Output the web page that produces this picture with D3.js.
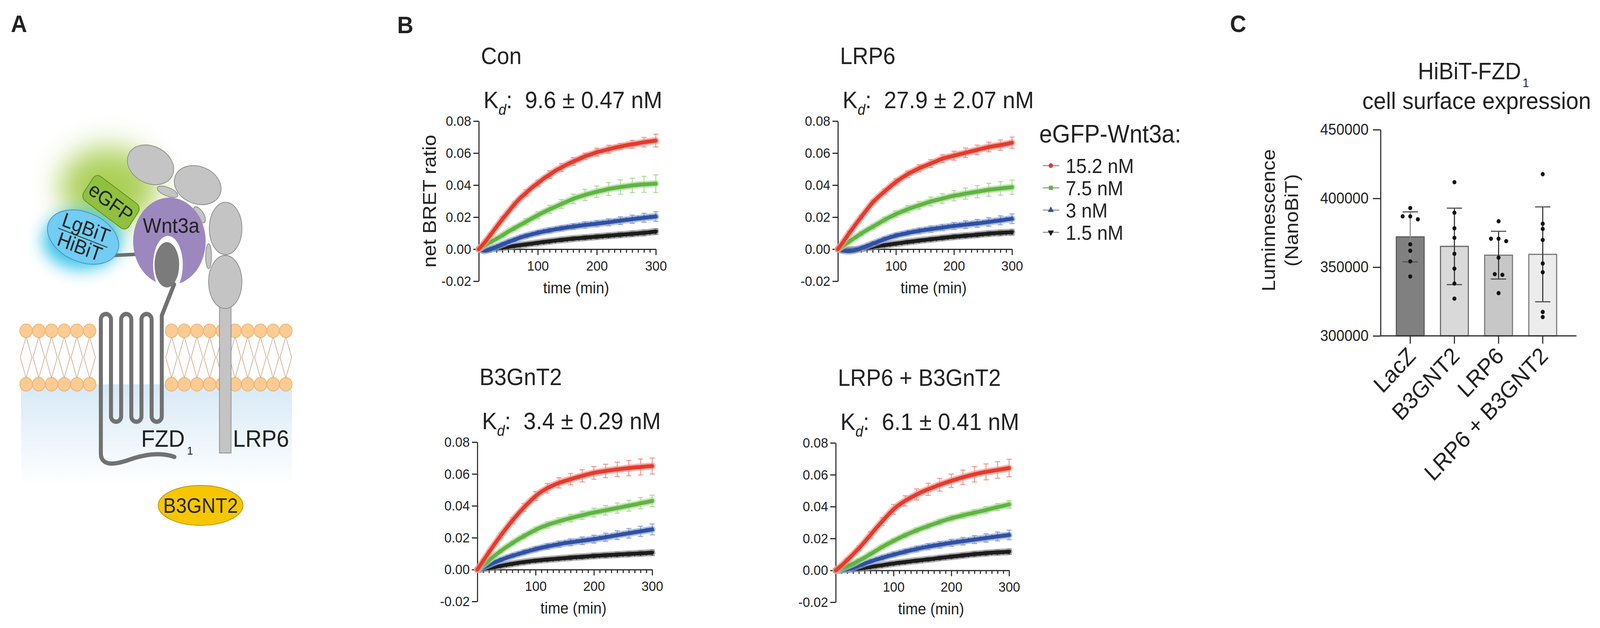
<!DOCTYPE html>
<html>
<head>
<meta charset="utf-8">
<script src="https://cdn.jsdelivr.net/npm/d3@7"></script>
<style>
  html, body { margin: 0; padding: 0; background: #fff; overflow: hidden; width: 100%; height: 100%; }
  #fig { width: 100vw; height: 100vh; }
  svg { display: block; }
  svg text { font-family: "Liberation Sans", Arial, Helvetica, sans-serif; fill: #222; }
</style>
</head>
<body>
<div id="fig"></div>
<script>
// ---------- DATA ----------
const times = [0,10,20,30,40,50,60,70,80,90,100,110,120,130,140,150,160,170,180,190,200,210,220,230,240,250,260,270,280,290,300];
const errTimes = [0,20,40,60,80,100,120,140,160,180,200,220,240,260,280,300];
const concLabels = ["15.2 nM", "7.5 nM", "3 nM", "1.5 nM"];
const yTicksB = [-0.02, 0, 0.02, 0.04, 0.06, 0.08];
const xTicksB = [100, 200, 300];

// Con
const conRed   = [0,0.0042,0.009,0.0139,0.0188,0.0233,0.0278,0.0318,0.0351,0.0384,0.0412,0.0441,0.0465,0.049,0.051,0.053,0.0547,0.0563,0.058,0.0592,0.0606,0.0614,0.0624,0.0633,0.0641,0.0649,0.0655,0.0661,0.0668,0.0673,0.0678];
const conGreen = [0,0.0024,0.0045,0.0065,0.0086,0.011,0.013,0.0151,0.0171,0.0192,0.0212,0.0231,0.0249,0.0265,0.0282,0.0298,0.0314,0.0327,0.0339,0.0349,0.0359,0.0367,0.0376,0.0382,0.0388,0.0393,0.0398,0.0402,0.0405,0.0407,0.0409];
const conBlue  = [0,-0.001,0,0.0015,0.003,0.0045,0.0058,0.0072,0.0083,0.0093,0.0102,0.011,0.0117,0.0124,0.013,0.0136,0.0141,0.0146,0.0151,0.0155,0.0159,0.0164,0.0168,0.0173,0.0178,0.0183,0.0187,0.0192,0.0196,0.02,0.0204];
const conBlack = [0,0,0.0002,0.0005,0.001,0.0015,0.002,0.0025,0.003,0.0035,0.004,0.0045,0.0049,0.0054,0.0058,0.0062,0.0066,0.0069,0.0072,0.0075,0.0078,0.0081,0.0084,0.0087,0.009,0.0093,0.0096,0.0099,0.0102,0.0106,0.011];
const conRedErr   = [0.0005,0.001,0.0015,0.0015,0.002,0.002,0.0025,0.0025,0.0025,0.002,0.0025,0.0025,0.002,0.0025,0.003,0.004];
const conGreenErr = [0.0005,0.001,0.0012,0.0015,0.002,0.0022,0.0025,0.0028,0.003,0.0035,0.0035,0.004,0.0045,0.0045,0.005,0.0055];
const conBlueErr  = [0.0005,0.0008,0.001,0.001,0.0012,0.0014,0.0015,0.0016,0.0018,0.002,0.002,0.0022,0.0024,0.0026,0.0028,0.003];
const conBlackErr = [0.0003,0.0005,0.0007,0.0008,0.0009,0.001,0.0011,0.0012,0.0013,0.0014,0.0015,0.0015,0.0016,0.0017,0.0018,0.0018];

// LRP6
const lrpRed   = [0,0.005,0.0103,0.0152,0.02,0.0247,0.0292,0.0327,0.0359,0.039,0.042,0.0445,0.0468,0.0487,0.0505,0.052,0.0535,0.055,0.0565,0.0575,0.0584,0.0593,0.0602,0.0611,0.062,0.0629,0.0638,0.0644,0.065,0.0657,0.0665];
const lrpGreen = [0,0.0024,0.0049,0.0073,0.0097,0.0119,0.014,0.0161,0.0182,0.0201,0.0219,0.0234,0.0249,0.0262,0.0274,0.0286,0.0298,0.0307,0.0316,0.0325,0.0334,0.034,0.0347,0.0353,0.0359,0.0365,0.0371,0.0375,0.0379,0.0383,0.0387];
const lrpBlue  = [0,-0.001,-0.0012,-0.0006,0.0006,0.002,0.0034,0.0048,0.0062,0.0074,0.0085,0.0093,0.0101,0.0108,0.0114,0.012,0.0125,0.013,0.0135,0.014,0.0145,0.0149,0.0153,0.0157,0.0161,0.0165,0.017,0.0175,0.018,0.0185,0.019];
const lrpBlack = [0,-0.0003,-0.0004,-0.0002,0.0003,0.0008,0.0014,0.002,0.0025,0.003,0.0035,0.004,0.0045,0.0049,0.0054,0.0058,0.0062,0.0066,0.007,0.0074,0.0078,0.0081,0.0084,0.0087,0.009,0.0094,0.0097,0.01,0.0102,0.0104,0.0106];
const lrpRedErr   = [0.0005,0.001,0.0012,0.0015,0.0018,0.002,0.002,0.0022,0.0025,0.0025,0.0028,0.003,0.003,0.003,0.0032,0.0035];
const lrpGreenErr = [0.0005,0.001,0.0012,0.0015,0.0018,0.002,0.0022,0.0025,0.0028,0.003,0.0032,0.0035,0.0038,0.004,0.0042,0.0045];
const lrpBlueErr  = [0.0005,0.0008,0.001,0.0012,0.0013,0.0015,0.0016,0.0018,0.002,0.002,0.0022,0.0024,0.0025,0.0027,0.0028,0.003];
const lrpBlackErr = [0.0003,0.0005,0.0006,0.0007,0.0008,0.0009,0.001,0.0011,0.0012,0.0013,0.0014,0.0014,0.0015,0.0016,0.0017,0.0018];

// B3GnT2
const b3Red   = [0,0.0055,0.0109,0.0162,0.0213,0.0261,0.0307,0.035,0.039,0.0427,0.0461,0.0489,0.0511,0.0529,0.0544,0.0556,0.0567,0.0578,0.0588,0.0598,0.0607,0.0613,0.0619,0.0624,0.0629,0.0633,0.0637,0.0641,0.0644,0.0647,0.065];
const b3Green = [0,0.003,0.0059,0.0088,0.0116,0.0142,0.0166,0.0189,0.021,0.023,0.0249,0.0266,0.028,0.0292,0.0303,0.0314,0.0323,0.0332,0.0341,0.035,0.0358,0.0365,0.0372,0.0379,0.0386,0.0394,0.0401,0.0408,0.0416,0.0423,0.0431];
const b3Blue  = [0,0.0015,0.003,0.0046,0.006,0.0074,0.0086,0.0097,0.0108,0.0118,0.0128,0.0137,0.0145,0.0152,0.0159,0.0166,0.0171,0.0176,0.0181,0.0186,0.0191,0.0197,0.0203,0.0209,0.0216,0.0222,0.0228,0.0234,0.024,0.0246,0.0252];
const b3Black = [0,0.0004,0.001,0.0016,0.0023,0.003,0.0036,0.0042,0.0047,0.0052,0.0056,0.006,0.0063,0.0066,0.0069,0.0072,0.0075,0.0078,0.008,0.0083,0.0086,0.0088,0.009,0.0092,0.0094,0.0096,0.0098,0.01,0.0102,0.0104,0.0106];
const b3RedErr   = [0.0005,0.001,0.0015,0.002,0.0025,0.0028,0.003,0.0032,0.0035,0.0038,0.004,0.0042,0.0045,0.0048,0.005,0.005];
const b3GreenErr = [0.0005,0.0008,0.001,0.0012,0.0015,0.0018,0.002,0.0022,0.0024,0.0026,0.0028,0.003,0.0032,0.0034,0.0035,0.0036];
const b3BlueErr  = [0.0005,0.0008,0.001,0.0012,0.0014,0.0016,0.0018,0.002,0.0022,0.0024,0.0025,0.0026,0.0028,0.003,0.0032,0.0034];
const b3BlackErr = [0.0003,0.0005,0.0007,0.0008,0.0009,0.001,0.0011,0.0012,0.0013,0.0014,0.0014,0.0015,0.0016,0.0016,0.0017,0.0018];

// LRP6 + B3GnT2
const lbRed   = [0,0.003,0.0065,0.01,0.0138,0.0179,0.0222,0.0265,0.0306,0.0346,0.0383,0.0412,0.0436,0.0457,0.0476,0.0494,0.0509,0.0523,0.0537,0.055,0.0562,0.0573,0.0584,0.0594,0.0603,0.0611,0.0618,0.0624,0.063,0.0636,0.0642];
const lbGreen = [0,0.0012,0.0026,0.0042,0.0061,0.008,0.0102,0.0124,0.0146,0.0166,0.0185,0.0203,0.022,0.0236,0.0251,0.0265,0.0278,0.0291,0.0304,0.0316,0.0327,0.0336,0.0345,0.0354,0.0362,0.037,0.0379,0.0388,0.0397,0.0405,0.0414];
const lbBlue  = [0,0.0003,0.0008,0.0017,0.003,0.0043,0.0055,0.0067,0.0078,0.0089,0.0099,0.0108,0.0117,0.0126,0.0134,0.0142,0.0149,0.0155,0.0161,0.0167,0.0173,0.0178,0.0183,0.0188,0.0193,0.0198,0.0203,0.0208,0.0213,0.0217,0.0222];
const lbBlack = [0,0.0002,0.0005,0.0008,0.0012,0.0016,0.0021,0.0027,0.0032,0.0038,0.0043,0.0048,0.0052,0.0057,0.0061,0.0065,0.0069,0.0073,0.0078,0.0082,0.0086,0.009,0.0094,0.0098,0.0102,0.0105,0.0108,0.0111,0.0113,0.0115,0.0117];
const lbRedErr   = [0.0005,0.001,0.0015,0.002,0.0025,0.003,0.0032,0.0035,0.0038,0.004,0.0042,0.0045,0.0048,0.005,0.0052,0.0055];
const lbGreenErr = [0.0005,0.0008,0.001,0.0011,0.0012,0.0013,0.0014,0.0015,0.0016,0.0017,0.0018,0.0019,0.002,0.0021,0.0022,0.0024];
const lbBlueErr  = [0.0005,0.0008,0.001,0.0012,0.0013,0.0015,0.0016,0.0018,0.002,0.0021,0.0022,0.0024,0.0025,0.0026,0.0028,0.003];
const lbBlackErr = [0.0003,0.0005,0.0006,0.0007,0.0008,0.0009,0.001,0.0011,0.0012,0.0012,0.0013,0.0014,0.0015,0.0015,0.0016,0.0017];

// Panel C
const cCategories = ["LacZ", "B3GNT2", "LRP6", "LRP6 + B3GNT2"];
const cMeans = [372000, 365100, 358700, 359300];
const cSD = [18200, 27800, 17400, 34500];
const lacZPts   = [393000, 386900, 386900, 384800, 366600, 361900, 354200, 343200];
const b3gnt2Pts = [411800, 389600, 378300, 371300, 359700, 348900, 338100, 327100];
const lrp6Pts   = [383400, 370700, 370700, 368900, 356900, 344900, 344400, 331100];
const lrp6b3Pts = [417600, 381600, 377800, 369800, 352700, 346300, 317400, 313700];
const cTicks = [300000, 350000, 400000, 450000];

// ---------- STYLE ----------
const seriesColors = ["#e53b2c", "#60b443", "#2f51a3", "#1c1c1c"];
const seriesLight  = ["#f3938b", "#a9db95", "#8fa3d6", "#8c8c8c"];
const shapes = [d3.symbolCircle, d3.symbolSquare, d3.symbolTriangle, d3.symbolTriangle];
const barFills = ["#808080", "#d9d9da", "#c7c7c7", "#ececec"];
const barStrokes = ["#5a5a5a", "#666", "#777", "#777"];
const axisColor = "#2a2a2a";

const W = 4411, H = 1608;
const svg = d3.select("#fig").append("svg")
    .attr("width", "100%").attr("height", "100%")
    .attr("viewBox", `0 0 ${W} ${H}`)
    .attr("preserveAspectRatio", "none");
const defs = svg.append("defs");

// panel letters
[["A", 30, 82], ["B", 1095, 85], ["C", 3391, 82]].forEach(([t, x, y]) => {
    svg.append("text").attr("x", x).attr("y", y)
        .attr("font-size", 62).attr("font-weight", "bold").text(t);
});

// ---------- 1. PANEL A: schematic ----------
function drawSchematic() {
    const g = svg.append("g");

    const grad = defs.append("linearGradient").attr("id", "cyto")
        .attr("x1", 0).attr("y1", 0).attr("x2", 0).attr("y2", 1);
    grad.append("stop").attr("offset", 0).attr("stop-color", "#d7e9f6");
    grad.append("stop").attr("offset", 1).attr("stop-color", "#ffffff");

    [["blurG", 38], ["blurC", 22]].forEach(([id, sd]) => {
        defs.append("filter").attr("id", id)
            .attr("x", "-80%").attr("y", "-80%").attr("width", "260%").attr("height", "260%")
            .append("feGaussianBlur").attr("stdDeviation", sd);
    });

    // cytoplasm
    g.append("rect").attr("x", 58).attr("y", 984).attr("width", 747).attr("height", 260)
        .attr("fill", "url(#cyto)");

    // glows
    g.append("ellipse").attr("cx", 300).attr("cy", 478).attr("rx", 135).attr("ry", 100)
        .attr("fill", "#9dc83a").attr("opacity", 0.85).attr("filter", "url(#blurG)");
    g.append("ellipse").attr("cx", 226).attr("cy", 615).attr("rx", 108).attr("ry", 74)
        .attr("fill", "#22bde8").attr("opacity", 0.9).attr("filter", "url(#blurC)");

    // membrane
    const headsX = [72, 107, 142, 177, 212, 247, 473, 508, 543, 578, 613, 648, 683, 718, 753, 788];
    const tails = g.append("g").attr("fill", "none").attr("stroke", "#c9a383").attr("stroke-width", 1.6);
    headsX.forEach(x => {
        tails.append("path").attr("d", `M${x},862 L${x - 16},915 L${x},968`);
        tails.append("path").attr("d", `M${x},862 L${x + 16},915 L${x},968`);
    });
    [847, 984].forEach(cy => {
        g.selectAll(null).data(headsX).enter().append("circle")
            .attr("cx", d => d).attr("cy", cy).attr("r", 17.5)
            .attr("fill", "#fbcb92").attr("stroke", "#e6a96b").attr("stroke-width", 1.5);
    });

    // LRP6
    const lrpFill = "#c4c4c4", lrpStroke = "#8d8d8d";
    g.append("rect").attr("x", 605).attr("y", 740).attr("width", 32).attr("height", 420)
        .attr("fill", lrpFill).attr("stroke", lrpStroke).attr("stroke-width", 2);
    const ell = [
        [415, 422, 66, 48, 22], [545, 474, 66, 48, 18], [462, 491, 30, 11, 20],
        [550, 550, 24, 11, 55], [622, 585, 45, 67, 0], [575, 656, 8, 32, 0], [621, 722, 46, 68, 0]
    ];
    ell.forEach(([cx, cy, rx, ry, rot]) => {
        g.append("ellipse").attr("cx", 0).attr("cy", 0).attr("rx", rx).attr("ry", ry)
            .attr("transform", `translate(${cx},${cy}) rotate(${rot})`)
            .attr("fill", lrpFill).attr("stroke", lrpStroke).attr("stroke-width", 2);
    });

    // eGFP
    const gfp = g.append("g").attr("transform", "translate(306,518) rotate(35)");
    gfp.append("rect").attr("x", -76).attr("y", -38).attr("width", 152).attr("height", 76).attr("rx", 16)
        .attr("fill", "#8fc13e").attr("stroke", "#5d8a2a").attr("stroke-width", 2);
    gfp.append("text").attr("text-anchor", "middle").attr("y", 18).attr("font-size", 52).text("eGFP");

    // linker
    g.append("line").attr("x1", 312).attr("y1", 654).attr("x2", 380).attr("y2", 651)
        .attr("stroke", "#6f6f6f").attr("stroke-width", 9);

    // LgBiT / HiBiT
    const nb = g.append("g").attr("transform", "translate(229,607) rotate(20)");
    nb.append("ellipse").attr("rx", 102).attr("ry", 64)
        .attr("fill", "#71cdf3").attr("stroke", "#4d8fb5").attr("stroke-width", 2);
    nb.append("text").attr("text-anchor", "middle").attr("y", -7).attr("font-size", 52).text("LgBiT");
    nb.append("line").attr("x1", -72).attr("x2", 72).attr("y1", 2).attr("y2", 2)
        .attr("stroke", "#333").attr("stroke-width", 2);
    nb.append("text").attr("text-anchor", "middle").attr("y", 44).attr("font-size", 52).text("HiBiT");

    // Wnt3a
    g.append("ellipse").attr("cx", 467).attr("cy", 618).attr("rx", 100).attr("ry", 112).attr("fill", "#9c88be");
    g.append("ellipse").attr("cx", 463).attr("cy", 678).attr("rx", 41).attr("ry", 74).attr("fill", "#fff");

    // FZD1
    g.append("path")
        .attr("d", "M481,1170 C445,1158 405,1162 360,1176 C318,1190 278,1196 278,1160 L278,818 " +
            "A14,14 0 0 1 306,818 L306,1066 A14,14 0 0 0 334,1066 L334,818 A14,14 0 0 1 362,818 " +
            "L362,1066 A14,14 0 0 0 390,1066 L390,818 A14,14 0 0 1 418,818 L418,1066 " +
            "A14,14 0 0 0 446,1066 L446,808 L480,728")
        .attr("fill", "none").attr("stroke", "#717171").attr("stroke-width", 11)
        .attr("stroke-linecap", "round").attr("stroke-linejoin", "round");
    g.append("ellipse").attr("cx", 460).attr("cy", 678).attr("rx", 34).attr("ry", 58).attr("fill", "#7b7b7b");

    g.append("text").attr("x", 394).attr("y", 596).attr("font-size", 54).text("Wnt3a");

    // labels
    const fz = g.append("text").attr("x", 389).attr("y", 1144).attr("font-size", 62);
    fz.append("tspan").text("FZD");
    fz.append("tspan").attr("font-size", 30).attr("dy", 20).attr("dx", 6).text("1");
    g.append("text").attr("x", 642).attr("y", 1144).attr("font-size", 62).text("LRP6");

    g.append("ellipse").attr("cx", 553).attr("cy", 1294).attr("rx", 117).attr("ry", 51)
        .attr("fill", "#f6c700").attr("stroke", "#b99400").attr("stroke-width", 2);
    g.append("text").attr("x", 553).attr("y", 1313).attr("text-anchor", "middle")
        .attr("font-size", 53).text("B3GNT2");
}
drawSchematic();

// ---------- 2. PANEL B: binding kinetics ----------
const panelsB = [
    { title: "Con", kd: "9.6 ± 0.47 nM", values: [conRed, conGreen, conBlue, conBlack],
      errs: [conRedErr, conGreenErr, conBlueErr, conBlackErr], x0: 1320, w: 488, yTop: 310, h: 410, yLabel: true },
    { title: "LRP6", kd: "27.9 ± 2.07 nM", values: [lrpRed, lrpGreen, lrpBlue, lrpBlack],
      errs: [lrpRedErr, lrpGreenErr, lrpBlueErr, lrpBlackErr], x0: 2310, w: 480, yTop: 310, h: 410 },
    { title: "B3GnT2", kd: "3.4 ± 0.29 nM", values: [b3Red, b3Green, b3Blue, b3Black],
      errs: [b3RedErr, b3GreenErr, b3BlueErr, b3BlackErr], x0: 1316, w: 482, yTop: 1132, h: 408 },
    { title: "LRP6 + B3GnT2", kd: "6.1 ± 0.41 nM", values: [lbRed, lbGreen, lbBlue, lbBlack],
      errs: [lbRedErr, lbGreenErr, lbBlueErr, lbBlackErr], x0: 2304, w: 478, yTop: 1134, h: 408 }
];

function styleAxis(sel, fontSize) {
    sel.attr("font-family", null).attr("font-size", fontSize)
        .style("color", axisColor).attr("stroke-width", 3);
}

function drawKinetics(p) {
    const x = d3.scaleLinear().domain([0, 300]).range([p.x0, p.x0 + p.w]);
    const y = d3.scaleLinear().domain([-0.02, 0.08]).range([p.yTop + p.h, p.yTop]);
    const g = svg.append("g");

    // titles
    g.append("text").attr("x", p.x0 + 6).attr("y", p.yTop - 146).attr("font-size", 61).text(p.title);
    const kd = g.append("text").attr("x", p.x0 + 13).attr("y", p.yTop - 33).attr("font-size", 62);
    kd.append("tspan").text("K");
    kd.append("tspan").attr("font-size", 38).attr("font-style", "italic").attr("dy", 17).text("d");
    kd.append("tspan").attr("dy", -17).text(":\u00a0\u00a0" + p.kd);

    // axes
    const yAxis = d3.axisLeft(y).tickValues(yTicksB).tickFormat(d => d.toFixed(2))
        .tickSize(15).tickSizeOuter(0).tickPadding(6);
    g.append("g").attr("transform", `translate(${p.x0},0)`).call(yAxis).call(styleAxis, 36);

    const minor = d3.range(10, 300, 10).filter(t => t % 100 !== 0);
    g.append("g").attr("transform", `translate(0,${y(0)})`)
        .call(d3.axisBottom(x).tickValues(minor).tickFormat("").tickSize(9).tickSizeOuter(0))
        .call(styleAxis, 36).call(s => s.select(".domain").remove());
    g.append("g").attr("transform", `translate(0,${y(0)})`)
        .call(d3.axisBottom(x).tickValues(xTicksB).tickSize(15).tickSizeOuter(0).tickPadding(14))
        .call(styleAxis, 36);

    g.append("text").attr("x", x(165)).attr("y", y(0) + 113).attr("text-anchor", "middle")
        .attr("font-size", 41).text("time (min)");

    if (p.yLabel) {
        g.append("text").attr("transform", `translate(${p.x0 - 118},${(p.yTop + p.yTop + p.h) / 2}) rotate(-90)`)
            .attr("text-anchor", "middle").attr("font-size", 52).text("net BRET ratio");
    }

    // series: draw lowest concentration first so red ends on top
    const line = d3.line().x((d, i) => x(times[i])).y(d => y(d)).curve(d3.curveMonotoneX);
    [3, 2, 1, 0].forEach(k => {
        const vals = p.values[k];
        const sg = g.append("g");
        sg.append("path").attr("d", line(vals)).attr("fill", "none")
            .attr("stroke", seriesLight[k]).attr("stroke-width", 18).attr("opacity", 0.7)
            .attr("stroke-linecap", "round");

        const eb = errTimes.map((t, j) => ({ t, v: vals[times.indexOf(t)], e: p.errs[k][j] }));
        const ebG = sg.append("g").attr("stroke", seriesLight[k]).attr("stroke-width", 2.5);
        ebG.selectAll(".eb").data(eb).enter().append("line")
            .attr("x1", d => x(d.t)).attr("x2", d => x(d.t))
            .attr("y1", d => y(d.v - d.e)).attr("y2", d => y(d.v + d.e));
        ebG.selectAll(".cap-t").data(eb).enter().append("line")
            .attr("x1", d => x(d.t) - 7).attr("x2", d => x(d.t) + 7)
            .attr("y1", d => y(d.v + d.e)).attr("y2", d => y(d.v + d.e));
        ebG.selectAll(".cap-b").data(eb).enter().append("line")
            .attr("x1", d => x(d.t) - 7).attr("x2", d => x(d.t) + 7)
            .attr("y1", d => y(d.v - d.e)).attr("y2", d => y(d.v - d.e));

        sg.append("path").attr("d", line(vals)).attr("fill", "none")
            .attr("stroke", seriesColors[k]).attr("stroke-width", 10).attr("stroke-linecap", "round");
        sg.selectAll(".pt").data(vals).enter().append("path")
            .attr("transform", (d, i) => `translate(${x(times[i])},${y(d)})` + (k === 3 ? " rotate(180)" : ""))
            .attr("d", d3.symbol().type(shapes[k]).size(70))
            .attr("fill", seriesColors[k]);
    });
}
panelsB.forEach(drawKinetics);

// legend
const legend = svg.append("g");
legend.append("text").attr("x", 2865).attr("y", 365).attr("font-size", 64).text("eGFP-Wnt3a:");
concLabels.forEach((lab, k) => {
    const cy = 424 + k * 57;
    legend.append("line").attr("x1", 2875).attr("x2", 2920).attr("y1", cy).attr("y2", cy)
        .attr("stroke", "#9a9a9a").attr("stroke-width", 3);
    legend.append("path")
        .attr("transform", `translate(2897,${cy})` + (k === 3 ? " rotate(180)" : ""))
        .attr("d", d3.symbol().type(shapes[k]).size(120))
        .attr("fill", seriesColors[k]);
    legend.append("text").attr("x", 2938).attr("y", cy + 19).attr("font-size", 52).text(lab);
});

// ---------- 3. PANEL C: surface expression ----------
function drawBars() {
    const g = svg.append("g");
    const xC = d3.scaleBand().domain(cCategories).range([3827, 4314]).paddingInner(0.37).paddingOuter(0.185);
    const yC = d3.scaleLinear().domain([300000, 450000]).range([860, 332]);
    const axisX0 = 3806, axisX1 = 4346;

    // title
    const t1 = g.append("text").attr("x", 4062).attr("y", 203).attr("text-anchor", "middle").attr("font-size", 61);
    t1.append("tspan").text("HiBiT-FZD");
    t1.append("tspan").attr("font-size", 32).attr("dy", 20).attr("dx", 4).text("1");
    g.append("text").attr("x", 4071).attr("y", 279).attr("text-anchor", "middle")
        .attr("font-size", 62).text("cell surface expression");

    // y label
    g.append("text").attr("transform", "translate(3515,564) rotate(-90)")
        .attr("text-anchor", "middle").attr("font-size", 52).text("Luminnescence");
    g.append("text").attr("transform", "translate(3579,564) rotate(-90)")
        .attr("text-anchor", "middle").attr("font-size", 52).text("(NanoBiT)");

    // bars
    const bars = cCategories.map((c, i) => ({ c, m: cMeans[i], sd: cSD[i], i }));
    g.selectAll(".bar").data(bars).enter().append("rect")
        .attr("x", d => xC(d.c)).attr("width", xC.bandwidth())
        .attr("y", d => yC(d.m)).attr("height", d => yC(300000) - yC(d.m))
        .attr("fill", d => barFills[d.i]).attr("stroke", d => barStrokes[d.i]).attr("stroke-width", 3);

    // error bars (SD)
    const cx = c => xC(c) + xC.bandwidth() / 2;
    g.selectAll(".err").data(bars).enter().append("line")
        .attr("x1", d => cx(d.c)).attr("x2", d => cx(d.c))
        .attr("y1", d => yC(d.m - d.sd)).attr("y2", d => yC(d.m + d.sd))
        .attr("stroke", d => d.i === 0 ? "#8f8f8f" : "#333").attr("stroke-width", 3);
    [1, -1].forEach(s => {
        g.selectAll(null).data(bars).enter().append("line")
            .attr("x1", d => cx(d.c) - 21).attr("x2", d => cx(d.c) + 21)
            .attr("y1", d => yC(d.m + s * d.sd)).attr("y2", d => yC(d.m + s * d.sd))
            .attr("stroke", "#555").attr("stroke-width", 3);
    });

    // individual points: values closer than 2500 share a row and are spread sideways
    [lacZPts, b3gnt2Pts, lrp6Pts, lrp6b3Pts].forEach((pts, ci) => {
        const sorted = pts.slice().sort((a, b) => b - a);
        const rows = [];
        sorted.forEach(v => {
            const last = rows[rows.length - 1];
            if (last && last[0] - v < 2500) last.push(v); else rows.push([v]);
        });
        const placed = [];
        rows.forEach(r => r.forEach((v, j) => placed.push({ v, dx: (j - (r.length - 1) / 2) * 21 })));
        g.selectAll(null).data(placed).enter().append("circle")
            .attr("cx", d => cx(cCategories[ci]) + d.dx).attr("cy", d => yC(d.v))
            .attr("r", 5.5).attr("fill", "#111");
    });

    // axes
    g.append("g").attr("transform", `translate(${axisX0},0)`)
        .call(d3.axisLeft(yC).tickValues(cTicks).tickFormat(d3.format("d")).tickSize(21).tickSizeOuter(0).tickPadding(12))
        .call(styleAxis, 40);
    g.append("line").attr("x1", axisX0).attr("x2", axisX1).attr("y1", 860).attr("y2", 860)
        .attr("stroke", axisColor).attr("stroke-width", 3);
    g.selectAll(".xt").data(cCategories).enter().append("line")
        .attr("x1", d => cx(d)).attr("x2", d => cx(d)).attr("y1", 860).attr("y2", 880)
        .attr("stroke", axisColor).attr("stroke-width", 3);
    g.selectAll(".xl").data(cCategories).enter().append("text")
        .attr("transform", d => `translate(${cx(d) + 18},${915}) rotate(-45)`)
        .attr("text-anchor", "end").attr("font-size", 60).text(d => d);
}
drawBars();
</script>
</body>
</html>
